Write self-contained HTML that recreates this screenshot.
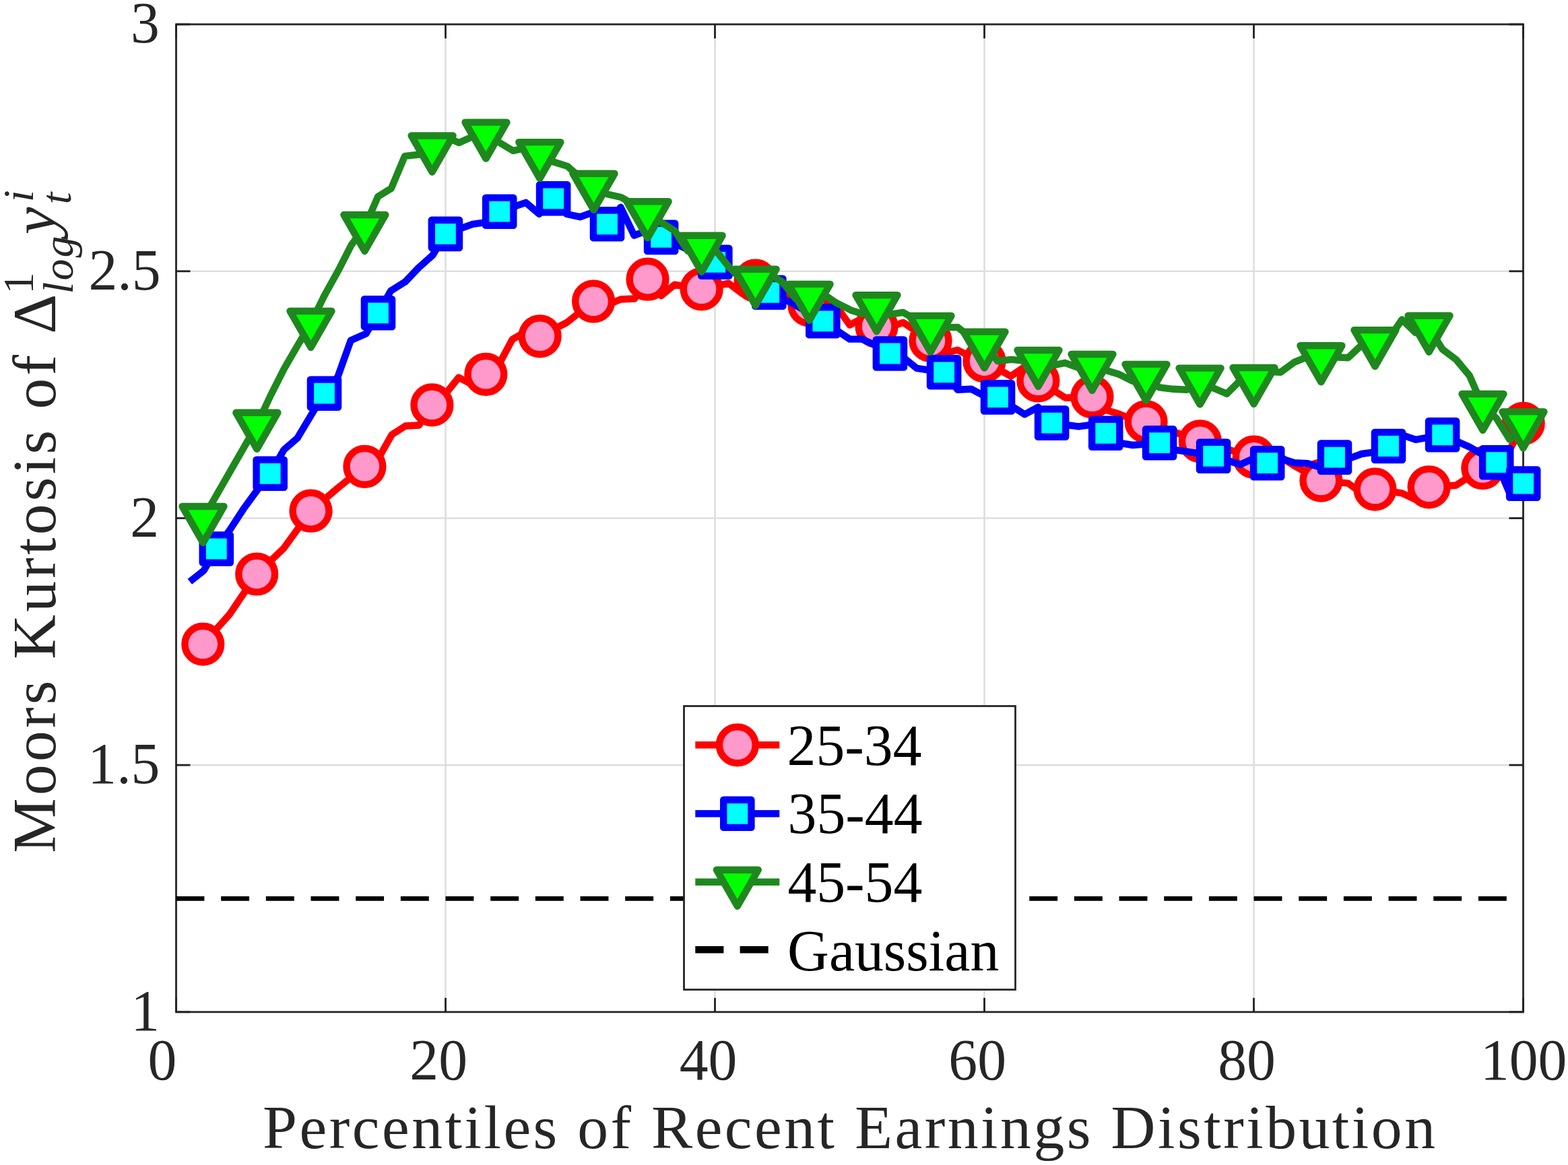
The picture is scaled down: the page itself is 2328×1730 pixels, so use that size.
<!DOCTYPE html>
<html><head><meta charset="utf-8"><title>Moors Kurtosis</title>
<style>
html,body{margin:0;padding:0;background:#fff;}
body{width:2328px;height:1730px;overflow:hidden;font-family:"Liberation Serif",serif;}
svg{display:block;position:absolute;left:0;top:0;}
text{font-family:"Liberation Serif",serif;}
</style></head><body>
<svg width="2328" height="1730" viewBox="0 0 2328 1730">
<rect x="0" y="0" width="2328" height="1730" fill="#fff"/>
<g stroke="#dedede" stroke-width="2.6" fill="none">
<line x1="661.5" y1="36.1" x2="661.5" y2="1502.8"/>
<line x1="1061.5" y1="36.1" x2="1061.5" y2="1502.8"/>
<line x1="1461.5" y1="36.1" x2="1461.5" y2="1502.8"/>
<line x1="1861.5" y1="36.1" x2="1861.5" y2="1502.8"/>
<line x1="261.5" y1="1136.1" x2="2261.5" y2="1136.1"/>
<line x1="261.5" y1="769.5" x2="2261.5" y2="769.5"/>
<line x1="261.5" y1="402.8" x2="2261.5" y2="402.8"/>
</g>
<rect x="261.5" y="36.1" width="2000.0" height="1466.7" fill="none" stroke="#262626" stroke-width="2.8"/>
<g stroke="#212121" stroke-width="2.8">
<line x1="261.5" y1="1502.8" x2="261.5" y2="1481.8"/>
<line x1="261.5" y1="36.1" x2="261.5" y2="57.1"/>
<line x1="661.5" y1="1502.8" x2="661.5" y2="1481.8"/>
<line x1="661.5" y1="36.1" x2="661.5" y2="57.1"/>
<line x1="1061.5" y1="1502.8" x2="1061.5" y2="1481.8"/>
<line x1="1061.5" y1="36.1" x2="1061.5" y2="57.1"/>
<line x1="1461.5" y1="1502.8" x2="1461.5" y2="1481.8"/>
<line x1="1461.5" y1="36.1" x2="1461.5" y2="57.1"/>
<line x1="1861.5" y1="1502.8" x2="1861.5" y2="1481.8"/>
<line x1="1861.5" y1="36.1" x2="1861.5" y2="57.1"/>
<line x1="2261.5" y1="1502.8" x2="2261.5" y2="1481.8"/>
<line x1="2261.5" y1="36.1" x2="2261.5" y2="57.1"/>
<line x1="261.5" y1="1502.8" x2="282.5" y2="1502.8"/>
<line x1="2261.5" y1="1502.8" x2="2240.5" y2="1502.8"/>
<line x1="261.5" y1="1136.1" x2="282.5" y2="1136.1"/>
<line x1="2261.5" y1="1136.1" x2="2240.5" y2="1136.1"/>
<line x1="261.5" y1="769.5" x2="282.5" y2="769.5"/>
<line x1="2261.5" y1="769.5" x2="2240.5" y2="769.5"/>
<line x1="261.5" y1="402.8" x2="282.5" y2="402.8"/>
<line x1="2261.5" y1="402.8" x2="2240.5" y2="402.8"/>
<line x1="261.5" y1="36.1" x2="282.5" y2="36.1"/>
<line x1="2261.5" y1="36.1" x2="2240.5" y2="36.1"/>
</g>
<line x1="261.5" y1="1334.3" x2="2261.5" y2="1334.3" stroke="#000" stroke-width="6.8" stroke-dasharray="41.9 24.77"/>
<polyline points="301.3,956.6 341.3,911.7 381.2,852.5 421.2,814.2 461.5,758.7 502.0,724.2 541.4,692.8 561.5,681.2 581.7,645.5 601.9,632.5 622.0,631.5 641.4,601.4 661.4,584.9 681.0,560.5 701.4,571.2 721.3,555.8 741.3,540.2 760.7,503.9 781.4,492.0 801.6,499.3 841.5,479.0 881.1,447.5 901.3,453.0 921.5,444.5 942.0,443.5 961.5,414.7 981.5,439.3 1001.5,422.7 1041.6,429.3 1081.7,420.7 1101.5,435.7 1121.6,416.7 1201.5,453.3 1241.5,454.3 1261.5,482.6 1281.5,472.0 1301.5,484.8 1321.5,485.9 1340.9,478.9 1381.5,505.9 1401.4,524.8 1421.8,519.8 1441.4,529.6 1461.5,536.2 1500.7,558.8 1521.3,544.4 1541.4,565.4 1581.6,590.7 1621.5,589.3 1641.5,608.7 1661.5,614.7 1681.4,622.7 1701.6,626.4 1781.8,655.3 1861.7,678.7 1901.3,678.7 1921.6,691.6 1961.4,713.6 2001.5,717.6 2021.5,732.0 2041.5,726.6 2081.5,732.4 2101.6,741.7 2121.6,723.3 2161.8,720.7 2201.3,695.1 2241.5,667.8 2261.7,628.8" fill="none" stroke="#ff0000" stroke-width="10.4" stroke-linejoin="round" stroke-linecap="butt"/>
<circle cx="301.3" cy="956.6" r="26.9" fill="#ff99cc" stroke="#ff0000" stroke-width="10.4"/>
<circle cx="381.2" cy="852.5" r="26.9" fill="#ff99cc" stroke="#ff0000" stroke-width="10.4"/>
<circle cx="461.5" cy="758.7" r="26.9" fill="#ff99cc" stroke="#ff0000" stroke-width="10.4"/>
<circle cx="541.4" cy="692.8" r="26.9" fill="#ff99cc" stroke="#ff0000" stroke-width="10.4"/>
<circle cx="641.4" cy="601.4" r="26.9" fill="#ff99cc" stroke="#ff0000" stroke-width="10.4"/>
<circle cx="721.3" cy="555.8" r="26.9" fill="#ff99cc" stroke="#ff0000" stroke-width="10.4"/>
<circle cx="801.6" cy="499.3" r="26.9" fill="#ff99cc" stroke="#ff0000" stroke-width="10.4"/>
<circle cx="881.1" cy="447.5" r="26.9" fill="#ff99cc" stroke="#ff0000" stroke-width="10.4"/>
<circle cx="961.5" cy="414.7" r="26.9" fill="#ff99cc" stroke="#ff0000" stroke-width="10.4"/>
<circle cx="1041.6" cy="429.3" r="26.9" fill="#ff99cc" stroke="#ff0000" stroke-width="10.4"/>
<circle cx="1121.6" cy="416.7" r="26.9" fill="#ff99cc" stroke="#ff0000" stroke-width="10.4"/>
<circle cx="1201.5" cy="453.3" r="26.9" fill="#ff99cc" stroke="#ff0000" stroke-width="10.4"/>
<circle cx="1301.5" cy="484.8" r="26.9" fill="#ff99cc" stroke="#ff0000" stroke-width="10.4"/>
<circle cx="1381.5" cy="505.9" r="26.9" fill="#ff99cc" stroke="#ff0000" stroke-width="10.4"/>
<circle cx="1461.5" cy="536.2" r="26.9" fill="#ff99cc" stroke="#ff0000" stroke-width="10.4"/>
<circle cx="1541.4" cy="565.4" r="26.9" fill="#ff99cc" stroke="#ff0000" stroke-width="10.4"/>
<circle cx="1621.5" cy="589.3" r="26.9" fill="#ff99cc" stroke="#ff0000" stroke-width="10.4"/>
<circle cx="1701.6" cy="626.4" r="26.9" fill="#ff99cc" stroke="#ff0000" stroke-width="10.4"/>
<circle cx="1781.8" cy="655.3" r="26.9" fill="#ff99cc" stroke="#ff0000" stroke-width="10.4"/>
<circle cx="1861.7" cy="678.7" r="26.9" fill="#ff99cc" stroke="#ff0000" stroke-width="10.4"/>
<circle cx="1961.4" cy="713.6" r="26.9" fill="#ff99cc" stroke="#ff0000" stroke-width="10.4"/>
<circle cx="2041.5" cy="726.6" r="26.9" fill="#ff99cc" stroke="#ff0000" stroke-width="10.4"/>
<circle cx="2121.6" cy="723.3" r="26.9" fill="#ff99cc" stroke="#ff0000" stroke-width="10.4"/>
<circle cx="2201.3" cy="695.1" r="26.9" fill="#ff99cc" stroke="#ff0000" stroke-width="10.4"/>
<circle cx="2261.7" cy="628.8" r="26.9" fill="#ff99cc" stroke="#ff0000" stroke-width="10.4"/>
<polyline points="281.8,863.8 302.6,847.2 321.3,815.0 341.5,786.5 361.5,755.8 381.5,728.4 401.2,703.3 421.5,667.9 441.5,650.6 461.4,617.3 481.5,584.2 501.5,559.6 520.8,505.5 543.4,495.5 561.5,464.8 580.2,431.8 601.7,418.4 621.7,397.3 642.5,378.8 661.4,347.4 701.7,332.8 721.5,330.2 741.7,314.2 780.6,300.8 800.6,317.8 821.6,294.8 841.5,318.0 861.5,322.2 881.5,314.8 901.5,332.8 921.5,307.8 941.6,349.7 961.5,342.0 981.6,352.4 1061.8,389.3 1141.8,434.3 1175.0,449.5 1221.8,476.8 1261.5,503.6 1279.5,503.6 1301.4,513.6 1321.4,525.0 1341.5,531.0 1360.9,546.8 1401.6,552.8 1421.8,578.7 1441.8,577.7 1461.5,588.0 1481.5,589.9 1521.3,615.3 1541.2,604.7 1561.6,628.1 1601.5,633.3 1621.5,630.7 1641.7,643.3 1661.5,657.6 1681.6,661.0 1721.6,657.7 1741.5,667.7 1761.9,670.7 1781.5,673.5 1801.6,677.3 1841.3,689.7 1861.5,680.7 1881.7,687.7 1901.5,680.7 1921.6,687.3 1941.6,688.1 1961.2,694.4 1981.5,679.1 2001.5,681.3 2021.7,674.0 2041.5,671.3 2061.5,662.5 2081.6,645.8 2101.8,652.8 2141.6,645.8 2181.8,663.8 2221.7,686.7 2241.5,732.7 2261.7,718.1" fill="none" stroke="#0000ff" stroke-width="10.4" stroke-linejoin="round" stroke-linecap="butt"/>
<rect x="300.7" y="794.4" width="41.2" height="41.2" fill="#00ffff" stroke="#0000ff" stroke-width="10.4" stroke-linejoin="round"/>
<rect x="380.6" y="682.7" width="41.2" height="41.2" fill="#00ffff" stroke="#0000ff" stroke-width="10.4" stroke-linejoin="round"/>
<rect x="460.9" y="563.6" width="41.2" height="41.2" fill="#00ffff" stroke="#0000ff" stroke-width="10.4" stroke-linejoin="round"/>
<rect x="540.9" y="444.2" width="41.2" height="41.2" fill="#00ffff" stroke="#0000ff" stroke-width="10.4" stroke-linejoin="round"/>
<rect x="640.8" y="326.8" width="41.2" height="41.2" fill="#00ffff" stroke="#0000ff" stroke-width="10.4" stroke-linejoin="round"/>
<rect x="721.1" y="293.6" width="41.2" height="41.2" fill="#00ffff" stroke="#0000ff" stroke-width="10.4" stroke-linejoin="round"/>
<rect x="801.0" y="274.2" width="41.2" height="41.2" fill="#00ffff" stroke="#0000ff" stroke-width="10.4" stroke-linejoin="round"/>
<rect x="880.9" y="312.2" width="41.2" height="41.2" fill="#00ffff" stroke="#0000ff" stroke-width="10.4" stroke-linejoin="round"/>
<rect x="961.0" y="331.8" width="41.2" height="41.2" fill="#00ffff" stroke="#0000ff" stroke-width="10.4" stroke-linejoin="round"/>
<rect x="1041.2" y="368.7" width="41.2" height="41.2" fill="#00ffff" stroke="#0000ff" stroke-width="10.4" stroke-linejoin="round"/>
<rect x="1121.2" y="413.7" width="41.2" height="41.2" fill="#00ffff" stroke="#0000ff" stroke-width="10.4" stroke-linejoin="round"/>
<rect x="1201.2" y="456.2" width="41.2" height="41.2" fill="#00ffff" stroke="#0000ff" stroke-width="10.4" stroke-linejoin="round"/>
<rect x="1300.8" y="504.4" width="41.2" height="41.2" fill="#00ffff" stroke="#0000ff" stroke-width="10.4" stroke-linejoin="round"/>
<rect x="1381.0" y="532.2" width="41.2" height="41.2" fill="#00ffff" stroke="#0000ff" stroke-width="10.4" stroke-linejoin="round"/>
<rect x="1460.9" y="569.3" width="41.2" height="41.2" fill="#00ffff" stroke="#0000ff" stroke-width="10.4" stroke-linejoin="round"/>
<rect x="1541.0" y="607.5" width="41.2" height="41.2" fill="#00ffff" stroke="#0000ff" stroke-width="10.4" stroke-linejoin="round"/>
<rect x="1621.1" y="622.7" width="41.2" height="41.2" fill="#00ffff" stroke="#0000ff" stroke-width="10.4" stroke-linejoin="round"/>
<rect x="1701.0" y="637.1" width="41.2" height="41.2" fill="#00ffff" stroke="#0000ff" stroke-width="10.4" stroke-linejoin="round"/>
<rect x="1781.0" y="656.7" width="41.2" height="41.2" fill="#00ffff" stroke="#0000ff" stroke-width="10.4" stroke-linejoin="round"/>
<rect x="1861.1" y="667.1" width="41.2" height="41.2" fill="#00ffff" stroke="#0000ff" stroke-width="10.4" stroke-linejoin="round"/>
<rect x="1960.9" y="658.5" width="41.2" height="41.2" fill="#00ffff" stroke="#0000ff" stroke-width="10.4" stroke-linejoin="round"/>
<rect x="2040.9" y="641.9" width="41.2" height="41.2" fill="#00ffff" stroke="#0000ff" stroke-width="10.4" stroke-linejoin="round"/>
<rect x="2121.0" y="625.2" width="41.2" height="41.2" fill="#00ffff" stroke="#0000ff" stroke-width="10.4" stroke-linejoin="round"/>
<rect x="2201.1" y="666.1" width="41.2" height="41.2" fill="#00ffff" stroke="#0000ff" stroke-width="10.4" stroke-linejoin="round"/>
<rect x="2241.1" y="697.5" width="41.2" height="41.2" fill="#00ffff" stroke="#0000ff" stroke-width="10.4" stroke-linejoin="round"/>
<polyline points="301.5,770.0 341.5,700.4 381.4,630.8 401.6,587.6 421.8,547.6 441.5,513.7 461.5,480.0 481.7,438.8 501.7,402.8 521.6,363.9 541.4,337.0 561.2,291.9 580.9,279.8 600.9,231.9 621.9,229.5 641.6,219.5 661.4,203.0 681.4,211.9 701.4,203.0 721.5,199.6 761.7,223.9 781.4,219.5 801.4,229.1 821.4,240.3 842.5,246.9 861.5,263.7 881.5,275.8 901.5,288.2 922.2,293.0 941.5,304.0 961.6,317.3 1001.9,342.8 1021.4,372.8 1041.6,367.8 1061.6,370.6 1081.7,395.8 1101.5,415.5 1121.6,417.7 1141.5,406.2 1161.4,418.7 1181.6,443.7 1201.6,439.9 1221.5,436.1 1241.5,449.7 1263.5,460.7 1279.5,465.7 1301.5,456.2 1321.5,466.9 1340.9,463.9 1381.5,486.9 1421.8,485.9 1441.4,501.5 1461.5,510.6 1481.3,536.2 1501.7,533.8 1541.5,538.0 1561.4,542.8 1581.2,538.8 1601.2,546.2 1621.5,544.0 1661.5,555.8 1681.4,565.8 1701.5,558.9 1721.5,575.4 1741.9,577.8 1761.9,578.8 1781.6,564.6 1801.4,576.2 1821.4,584.8 1841.3,564.8 1861.5,564.0 1881.3,551.8 1901.3,552.8 1921.6,537.9 1941.2,529.9 1961.4,531.3 1981.2,530.3 2001.5,531.3 2021.1,512.9 2041.5,508.1 2061.4,503.9 2081.5,474.5 2101.6,493.9 2121.6,486.7 2141.8,518.9 2161.8,533.9 2181.8,557.9 2201.5,603.0 2221.5,620.8 2241.5,652.8 2261.5,629.4" fill="none" stroke="#1e881e" stroke-width="10.4" stroke-linejoin="round" stroke-linecap="butt"/>
<polygon points="270.5,752.0 332.5,752.0 301.5,806.0" fill="#00ff00" stroke="#1e881e" stroke-width="10.4" stroke-linejoin="round"/>
<polygon points="350.4,612.8 412.4,612.8 381.4,666.8" fill="#00ff00" stroke="#1e881e" stroke-width="10.4" stroke-linejoin="round"/>
<polygon points="430.5,462.0 492.5,462.0 461.5,516.0" fill="#00ff00" stroke="#1e881e" stroke-width="10.4" stroke-linejoin="round"/>
<polygon points="510.4,319.0 572.4,319.0 541.4,373.0" fill="#00ff00" stroke="#1e881e" stroke-width="10.4" stroke-linejoin="round"/>
<polygon points="610.6,201.5 672.6,201.5 641.6,255.5" fill="#00ff00" stroke="#1e881e" stroke-width="10.4" stroke-linejoin="round"/>
<polygon points="690.5,181.6 752.5,181.6 721.5,235.6" fill="#00ff00" stroke="#1e881e" stroke-width="10.4" stroke-linejoin="round"/>
<polygon points="770.4,211.1 832.4,211.1 801.4,265.1" fill="#00ff00" stroke="#1e881e" stroke-width="10.4" stroke-linejoin="round"/>
<polygon points="850.5,257.8 912.5,257.8 881.5,311.8" fill="#00ff00" stroke="#1e881e" stroke-width="10.4" stroke-linejoin="round"/>
<polygon points="930.6,299.3 992.6,299.3 961.6,353.3" fill="#00ff00" stroke="#1e881e" stroke-width="10.4" stroke-linejoin="round"/>
<polygon points="1010.6,349.8 1072.6,349.8 1041.6,403.8" fill="#00ff00" stroke="#1e881e" stroke-width="10.4" stroke-linejoin="round"/>
<polygon points="1090.6,399.7 1152.6,399.7 1121.6,453.7" fill="#00ff00" stroke="#1e881e" stroke-width="10.4" stroke-linejoin="round"/>
<polygon points="1170.6,421.9 1232.6,421.9 1201.6,475.9" fill="#00ff00" stroke="#1e881e" stroke-width="10.4" stroke-linejoin="round"/>
<polygon points="1270.5,438.2 1332.5,438.2 1301.5,492.2" fill="#00ff00" stroke="#1e881e" stroke-width="10.4" stroke-linejoin="round"/>
<polygon points="1350.5,468.9 1412.5,468.9 1381.5,522.9" fill="#00ff00" stroke="#1e881e" stroke-width="10.4" stroke-linejoin="round"/>
<polygon points="1430.5,492.6 1492.5,492.6 1461.5,546.6" fill="#00ff00" stroke="#1e881e" stroke-width="10.4" stroke-linejoin="round"/>
<polygon points="1510.5,520.0 1572.5,520.0 1541.5,574.0" fill="#00ff00" stroke="#1e881e" stroke-width="10.4" stroke-linejoin="round"/>
<polygon points="1590.5,526.0 1652.5,526.0 1621.5,580.0" fill="#00ff00" stroke="#1e881e" stroke-width="10.4" stroke-linejoin="round"/>
<polygon points="1670.5,540.9 1732.5,540.9 1701.5,594.9" fill="#00ff00" stroke="#1e881e" stroke-width="10.4" stroke-linejoin="round"/>
<polygon points="1750.6,546.6 1812.6,546.6 1781.6,600.6" fill="#00ff00" stroke="#1e881e" stroke-width="10.4" stroke-linejoin="round"/>
<polygon points="1830.5,546.0 1892.5,546.0 1861.5,600.0" fill="#00ff00" stroke="#1e881e" stroke-width="10.4" stroke-linejoin="round"/>
<polygon points="1930.4,513.3 1992.4,513.3 1961.4,567.3" fill="#00ff00" stroke="#1e881e" stroke-width="10.4" stroke-linejoin="round"/>
<polygon points="2010.5,490.1 2072.5,490.1 2041.5,544.1" fill="#00ff00" stroke="#1e881e" stroke-width="10.4" stroke-linejoin="round"/>
<polygon points="2090.6,468.7 2152.6,468.7 2121.6,522.7" fill="#00ff00" stroke="#1e881e" stroke-width="10.4" stroke-linejoin="round"/>
<polygon points="2170.5,585.0 2232.5,585.0 2201.5,639.0" fill="#00ff00" stroke="#1e881e" stroke-width="10.4" stroke-linejoin="round"/>
<polygon points="2230.5,611.4 2292.5,611.4 2261.5,665.4" fill="#00ff00" stroke="#1e881e" stroke-width="10.4" stroke-linejoin="round"/>
<rect x="1015.5" y="1048.5" width="492" height="421.1" fill="#fff" stroke="#262626" stroke-width="2.8"/>
<line x1="1032.3" y1="1106.3" x2="1157.3" y2="1106.3" stroke="#ff0000" stroke-width="10.4"/>
<circle cx="1094.8" cy="1106.3" r="26.9" fill="#ff99cc" stroke="#ff0000" stroke-width="10.4"/>
<line x1="1032.3" y1="1208.3" x2="1157.3" y2="1208.3" stroke="#0000ff" stroke-width="10.4"/>
<rect x="1074.2" y="1187.7" width="41.2" height="41.2" fill="#00ffff" stroke="#0000ff" stroke-width="10.4" stroke-linejoin="round"/>
<line x1="1032.3" y1="1309.7" x2="1157.3" y2="1309.7" stroke="#1e881e" stroke-width="10.4"/>
<polygon points="1063.8,1291.7 1125.8,1291.7 1094.8,1345.7" fill="#00ff00" stroke="#1e881e" stroke-width="10.4" stroke-linejoin="round"/>
<line x1="1032.3" y1="1410.3" x2="1157.3" y2="1410.3" stroke="#000" stroke-width="10.6" stroke-dasharray="42.1 24.2"/>
<text x="194.0" y="63.3" font-size="85.7" fill="#262626">3</text>
<text x="131.4" y="430.0" font-size="85.7" fill="#262626">2.5</text>
<text x="193.2" y="796.7" font-size="85.7" fill="#262626">2</text>
<text x="130.3" y="1163.3" font-size="85.7" fill="#262626">1.5</text>
<text x="194.3" y="1530.0" font-size="85.7" fill="#262626">1</text>
<text x="219.6" y="1603.3" font-size="85.7" fill="#262626">0</text>
<text x="608.3" y="1603.3" font-size="85.7" fill="#262626">20</text>
<text x="1008.7" y="1603.3" font-size="85.7" fill="#262626">40</text>
<text x="1408.3" y="1603.3" font-size="85.7" fill="#262626">60</text>
<text x="1808.2" y="1603.3" font-size="85.7" fill="#262626">80</text>
<text x="2197.9" y="1603.3" font-size="85.7" fill="#262626">100</text>
<text x="390.0" y="1704.6" font-size="91.7" fill="#262626" textLength="1741" lengthAdjust="spacing">Percentiles of Recent Earnings Distribution</text>
<g transform="translate(81.9,1285.9) rotate(-90)" fill="#262626">
<text x="19.2" y="0" font-size="91.7" textLength="830" lengthAdjust="spacing">Moors Kurtosis of Δ</text>
<text x="849.4" y="-33.3" font-size="64">1</text>
<text x="849.4" y="26.0" font-size="64" font-style="italic" textLength="86" lengthAdjust="spacing">log</text>
<text x="937.6" y="0" font-size="91.7" font-style="italic">y</text>
<text x="985.9" y="-33.3" font-size="64" font-style="italic">i</text>
<text x="982.6" y="22.7" font-size="64" font-style="italic">t</text>
</g>
<text x="1168.6" y="1136.2" font-size="85.7" fill="#000">25-34</text>
<text x="1169.6" y="1237.4" font-size="85.7" fill="#000">35-44</text>
<text x="1169.4" y="1338.8" font-size="85.7" fill="#000">45-54</text>
<text x="1169.1" y="1440.5" font-size="85.7" fill="#000">Gaussian</text>
</svg></body></html>
